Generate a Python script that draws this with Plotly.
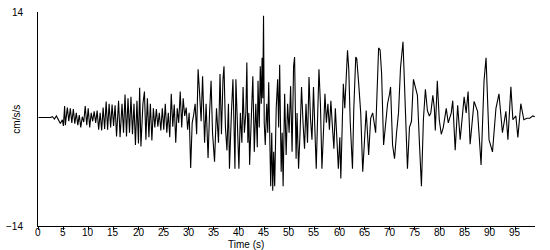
import plotly.graph_objects as go

time_s = [0.10, 2.47, 2.87, 3.27, 3.66, 4.06, 4.45, 4.85, 5.05, 5.30, 5.44, 5.84, 6.13, 6.43, 6.73, 7.03,
          7.32, 7.62, 7.92, 8.21, 8.51, 8.81, 9.10, 9.40, 9.70, 9.99, 10.29, 10.59, 10.88, 11.18, 11.48,
          11.77, 12.07, 12.37, 12.67, 12.96, 13.26, 13.56, 13.85, 14.15, 14.45, 14.74, 15.04, 15.34, 15.63,
          16.03, 16.33, 16.72, 17.02, 17.32, 17.61, 17.91, 18.21, 18.50, 18.80, 19.10, 19.39, 19.69, 19.99,
          20.23, 20.48, 20.88, 21.18, 21.47, 21.77, 22.07, 22.36, 22.66, 22.96, 23.25, 23.55, 23.85, 24.14,
          24.44, 24.74, 25.03, 25.33, 25.63, 25.93, 26.22, 26.52, 26.82, 27.11, 27.41, 27.71, 28.00, 28.30,
          28.60, 28.89, 29.19, 29.49, 29.78, 30.08, 30.38, 30.68, 30.97, 31.27, 31.57, 31.86, 32.16, 32.46,
          32.75, 33.15, 33.45, 33.84, 34.14, 34.44, 34.73, 35.13, 35.52, 35.92, 36.22, 36.51, 36.81, 37.01,
          37.30, 37.60, 37.90, 38.10, 38.49, 38.79, 38.99, 39.19, 39.38, 39.68, 39.98, 40.27, 40.57, 40.81,
          41.07, 41.36, 41.56, 41.76, 41.96, 42.11, 42.45, 42.75, 43.04, 43.34, 43.64, 43.78, 44.03, 44.23,
          44.43, 44.59, 44.73, 44.88, 45.02, 45.22, 45.52, 45.72, 45.91, 46.11, 46.31, 46.51, 46.71, 46.90,
          47.10, 47.40, 47.69, 47.89, 48.09, 48.39, 48.59, 48.78, 49.08, 49.38, 49.67, 49.97, 50.27, 50.56,
          50.86, 51.06, 51.36, 51.55, 51.85, 52.15, 52.44, 52.74, 53.04, 53.33, 53.63, 53.93, 54.22, 54.52,
          54.82, 55.12, 55.37, 55.61, 55.91, 56.20, 56.50, 56.80, 57.10, 57.39, 57.69, 57.99, 58.28, 58.58,
          58.88, 59.17, 59.47, 59.77, 60.06, 60.26, 60.56, 60.76, 61.05, 61.25, 61.59, 61.84, 62.14, 62.58,
          62.83, 63.23, 63.43, 63.82, 64.22, 64.62, 64.91, 65.31, 65.61, 65.80, 66.20, 66.60, 67.19, 67.49,
          67.78, 68.08, 68.38, 68.77, 69.17, 69.56, 69.96, 70.16, 70.56, 70.95, 71.35, 71.74, 72.14, 72.63,
          73.13, 73.52, 73.92, 74.32, 74.71, 75.11, 75.50, 75.90, 76.30, 76.69, 77.09, 77.49, 77.88, 78.17,
          78.57, 78.87, 79.06, 79.46, 79.85, 80.25, 80.65, 81.24, 81.64, 82.23, 82.53, 83.02, 83.51, 84.01,
          84.41, 84.80, 85.20, 85.59, 85.99, 86.78, 87.47, 88.17, 88.76, 89.16, 89.75, 90.44, 91.13, 91.73,
          92.42, 93.11, 93.51, 94.10, 94.50, 95.09, 95.49, 96.08, 96.68, 97.27, 97.87, 98.46, 98.86]

# Acceleration (cm/s/s) at each of those points
accel = [0.2, 0.2, 0.3, 0.0, 0.4, -0.1, -0.6, -0.1, -0.9, 1.7, -0.8, 1.5, -0.3, 1.4, -0.5, 1.3,
         -0.6, 0.8, -0.8, 0.5, -1.1, 0.3, -0.4, 1.7, -0.8, 1.4, -1.1, 0.8, -0.3, 1.0, -0.5,
         1.1, -1.4, 0.8, -1.5, 1.5, -1.3, 2.3, -1.4, 2.0, -1.1, 1.9, -0.9, 1.8, -2.3,
         2.4, -2.4, 2.0, -1.8, 3.2, -2.3, 2.7, -1.8, 2.9, -2.0, 2.0, -3.4, 2.4, -3.2,
         4.1, -3.6, 2.0, 3.6, -2.7, 2.7, -2.4, 2.0, -2.8, 1.4, -1.1, 1.3, -1.0, 0.8,
         -1.5, 1.4, -1.4, 2.0, -1.8, 0.8, -2.4, 3.3, -1.0, 1.9, -3.1, 1.4, -0.5, 3.6,
         -1.1, 2.7, 0.4, 1.5, -1.4, 0.8, -6.4, -0.5, 0.5, 2.0, -2.0, 6.5, 3.3, -0.3,
         5.6, -3.1, 2.0, -5.1, 0.8, 5.0, -1.8, -5.6, 1.4, -3.1, 5.9, -2.0, 5.2, 6.9,
         -1.1, -4.1, 2.0, -6.5, 0.8, 5.2, -0.5, -6.5, 5.2, -0.5, -6.5, 0.8, -3.1, 4.2,
         -1.8, 0.8, 7.4, -3.1, 0.8, -6.0, 2.0, 5.6, -4.3, 2.0, -3.7, 5.0, -1.1, 6.9,
         2.0, 8.0, 2.7, 13.5, -0.5, -3.4, 2.0, -1.8, 4.8, -3.1, -8.8, -1.8, -9.4, -4.3,
         -8.8, 1.4, 5.2, -1.1, 7.1, -6.9, -1.8, -8.8, 3.3, -4.7, 2.0, -1.8, 4.3, -4.3,
         6.9, 8.1, -5.2, 0.8, -6.5, -1.8, 4.2, -0.5, -3.9, 2.0, -3.1, 5.5, 0.1, -2.7,
         4.2, -1.8, -6.5, -0.5, 6.5, 2.0, -6.5, -1.8, 3.3, -0.5, 2.0, -1.4, 2.4, -0.9,
         -3.9, 1.4, -1.8, -6.5, -2.4, -7.8, -0.3, 4.6, 1.4, 5.0, 9.0, 6.5, -0.5, -6.5,
         1.1, 8.1, 7.9, 4.6, 0.8, -6.9, -3.7, 1.1, -2.4, -4.7, 0.1, 0.8, -1.8, 3.3,
         9.3, 9.0, 5.9, -3.4, -1.1, 2.0, 3.3, 4.2, -3.4, -5.2, -1.8, 0.8, 6.7, 10.1,
         0.8, -6.5, -1.1, -0.3, 5.2, 3.9, 3.1, -3.1, -8.8, -0.1, 3.9, 1.1, 0.4, 0.8,
         3.1, 1.4, -1.5, 5.0, -0.1, -2.0, -1.1, 1.4, -0.5, 0.8, 2.4, -4.1, 1.8, -2.7,
         0.4, 2.9, 0.8, 3.6, -3.3, 2.3, 1.0, -6.0, 5.0, 8.0, -2.7, -4.3, 1.4, 3.3,
         -1.8, 1.0, -2.7, 4.2, -0.1, 0.4, -2.4, 2.0, -0.1, 0.1, 0.1, 0.4, 0.3]

x_ticks = [0, 5, 10, 15, 20, 25, 30, 35, 40, 45, 50, 55, 60, 65, 70, 75, 80, 85, 90, 95]
y_ticks = [-14, 14]
x_title = "Time (s)"
y_title = "cm/s/s"

FONT = "Liberation Sans, Arial, sans-serif"
TXT = dict(family=FONT, size=10, color="black")

fig = go.Figure(
    go.Scatter(x=time_s, y=accel, mode="lines",
               line=dict(color="black", width=1.1), hoverinfo="skip", showlegend=False)
)

# x tick labels placed tightly under the axis, as in the reference
annotations = [
    dict(text=str(v), x=v, xref="x", y=-0.031, yref="paper", xanchor="center", yanchor="middle",
         showarrow=False, font=TXT)
    for v in x_ticks
]
annotations += [
    dict(text=x_title, xref="paper", yref="paper", x=0.418, y=-0.088,
         xanchor="center", yanchor="middle", showarrow=False, font=TXT),
    dict(text=y_title, xref="paper", yref="paper", x=-0.045, y=0.5, textangle=-90,
         xanchor="center", yanchor="middle", showarrow=False, font=TXT),
]

fig.update_layout(
    width=550, height=250,
    margin=dict(l=35, r=15, t=6, b=24, pad=0),
    paper_bgcolor="white", plot_bgcolor="white",
    font=TXT,
    xaxis=dict(range=[0, 98.9], tickvals=x_ticks, showticklabels=False, ticks="outside",
               ticklen=3, tickwidth=1, tickcolor="black", showline=True, linecolor="black",
               linewidth=1, showgrid=False, zeroline=False),
    yaxis=dict(range=[-14, 14], tickvals=y_ticks, ticks="", showline=True, linecolor="black",
               linewidth=1, showgrid=False, zeroline=False, ticklabelstandoff=12, tickfont=TXT),
    annotations=annotations,
)

fig.write_html("out.html")
